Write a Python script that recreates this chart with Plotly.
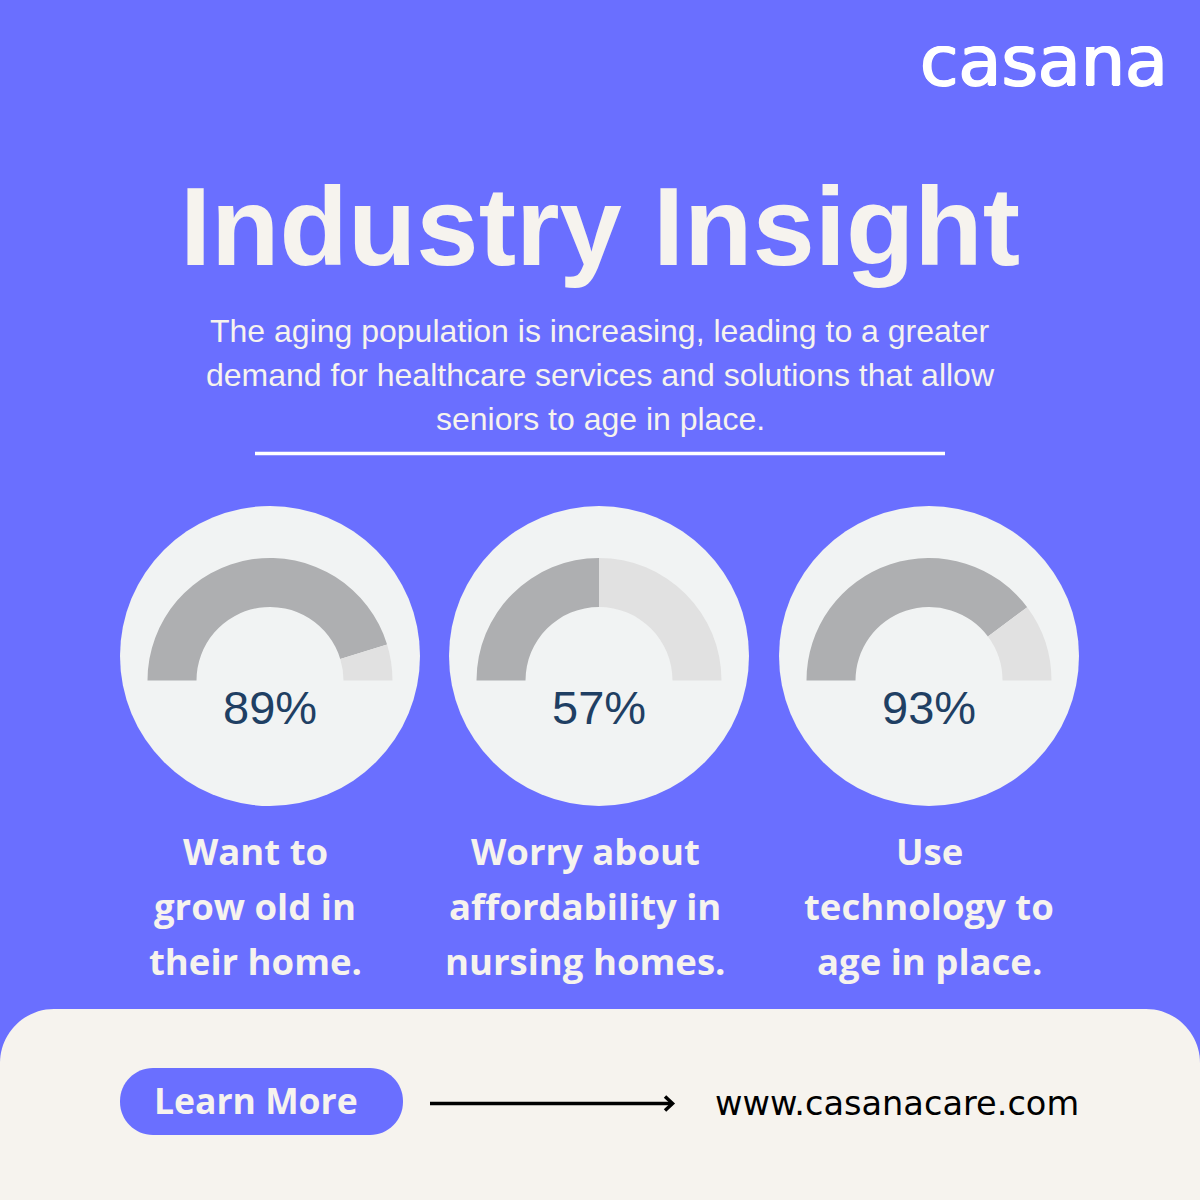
import plotly.graph_objects as go

# values
percent_labels = ['89%', '57%', '93%']
# how far the dark arc actually runs, share of the half circle
gauge_fill = [90.5, 50, 79.6]
captions = [
    ['Want to', 'grow old in', 'their home.'],
    ['Worry about', 'affordability in', 'nursing homes.'],
    ['Use', 'technology to', 'age in place.'],
]
body_lines = [
    'The aging population is increasing, leading to a greater',
    'demand for healthcare services and solutions that allow',
    'seniors to age in place.',
]

BLUE = '#6A6FFF'
CREAM = '#F6F3EE'
DISC = '#F1F3F3'
DARK = '#AEAFB1'
LIGHT = '#E1E1E1'
NAVY = '#1F3F63'

SIZE = 1200.0
disc_x = [270, 599, 929]
caption_x = [255, 585, 929]
caption_y = [851, 906, 961]


def px(x):
    return x / SIZE


def py(y):
    return 1 - y / SIZE


def label(x, y, text, size, color, family='Liberation Sans', weight='normal', shadow='none'):
    fig.add_annotation(x=px(x), y=py(y), xref='paper', yref='paper', text=text,
                       showarrow=False, xanchor='center', yanchor='middle',
                       font=dict(family=family, size=size, color=color, weight=weight,
                                 shadow=shadow))


def rounded(x0, y0, x1, y1, r):
    # rounded box as an svg path, corners as cubic curves
    k = r * 0.45
    pts = [
        ('M', (x0 + r, y0)), ('L', (x1 - r, y0)),
        ('C', (x1 - k, y0), (x1, y0 + k), (x1, y0 + r)), ('L', (x1, y1 - r)),
        ('C', (x1, y1 - k), (x1 - k, y1), (x1 - r, y1)), ('L', (x0 + r, y1)),
        ('C', (x0 + k, y1), (x0, y1 - k), (x0, y1 - r)), ('L', (x0, y0 + r)),
        ('C', (x0, y0 + k), (x0 + k, y0), (x0 + r, y0)),
    ]
    out = []
    for p in pts:
        coords = ' '.join(f'{px(x):.5f},{py(y):.5f}' for x, y in p[1:])
        out.append(f'{p[0]} {coords}')
    return ' '.join(out) + ' Z'


fig = go.Figure()

# gauges
R_OUT = 122.5
for cx, fill in zip(disc_x, gauge_fill):
    cy = 680.5
    fig.add_trace(go.Pie(values=[fill, 100 - fill, 100], sort=False, direction='clockwise',
                         rotation=-90, hole=0.6, textinfo='none', hoverinfo='skip',
                         showlegend=False,
                         marker=dict(colors=[DARK, LIGHT, 'rgba(0,0,0,0)'], line=dict(width=0)),
                         domain=dict(x=[px(cx - R_OUT), px(cx + R_OUT)],
                                     y=[py(cy + R_OUT), py(cy - R_OUT)])))

shapes = []
for cx in disc_x:
    shapes.append(dict(type='circle', xref='paper', yref='paper', layer='below',
                       x0=px(cx - 150), x1=px(cx + 150), y0=py(806), y1=py(506),
                       fillcolor=DISC, line=dict(width=0)))

# bottom panel, runs past the page edge at the bottom
shapes.append(dict(type='path', path=rounded(0, 1009, 1200, 1300, 54), xref='paper', yref='paper',
                   layer='below', fillcolor=CREAM, line=dict(width=0)))

# button
shapes.append(dict(type='path', path=rounded(120, 1068, 403, 1135, 33), xref='paper', yref='paper',
                   layer='below', fillcolor=BLUE, line=dict(width=0)))

# rule under the text
shapes.append(dict(type='line', xref='paper', yref='paper', x0=px(255), x1=px(945),
                   y0=py(453.5), y1=py(453.5), line=dict(color='#FFFFFF', width=3.5)))

# arrow
shapes.append(dict(type='line', xref='paper', yref='paper', x0=px(430), x1=px(672),
                   y0=py(1103.5), y1=py(1103.5), line=dict(color='#000000', width=3.5)))
shapes.append(dict(type='path', xref='paper', yref='paper',
                   path=(f'M {px(665):.5f},{py(1096.5):.5f} L {px(672.5):.5f},{py(1103.5):.5f} '
                         f'L {px(665):.5f},{py(1110.5):.5f}'),
                   line=dict(color='#000000', width=3.5)))

fig.update_layout(width=1200, height=1200, margin=dict(l=0, r=0, t=0, b=0),
                  paper_bgcolor=BLUE, plot_bgcolor=BLUE, shapes=shapes)

# thicken the regular weight a little for the logo
label(1044, 61, 'casana', 70, '#FFFFFF', family='DejaVu Sans',
      shadow='1px 0 0 #FFFFFF, -1px 0 0 #FFFFFF, 0 1px 0 #FFFFFF')
label(600, 226.5, 'Industry Insight', 112, CREAM, weight='bold')
for y, line in zip([331, 375, 419], body_lines):
    label(600, y, line, 32, CREAM)

for cx, pct in zip(disc_x, percent_labels):
    label(cx, 707.5, pct, 47, NAVY)

for cx, lines in zip(caption_x, captions):
    for y, line in zip(caption_y, lines):
        label(cx, y, line, 36.5, CREAM, family='Open Sans', weight=700)

label(256, 1100, 'Learn More', 35.5, CREAM, family='Open Sans', weight=700)
label(897, 1103, 'www.casanacare.com', 33.6, '#000000', family='DejaVu Sans')

# page has a default body margin, drop it so the chart fills the window
fig.write_html("out.html", config={'displayModeBar': False},
               post_script="document.body.style.margin='0';")
